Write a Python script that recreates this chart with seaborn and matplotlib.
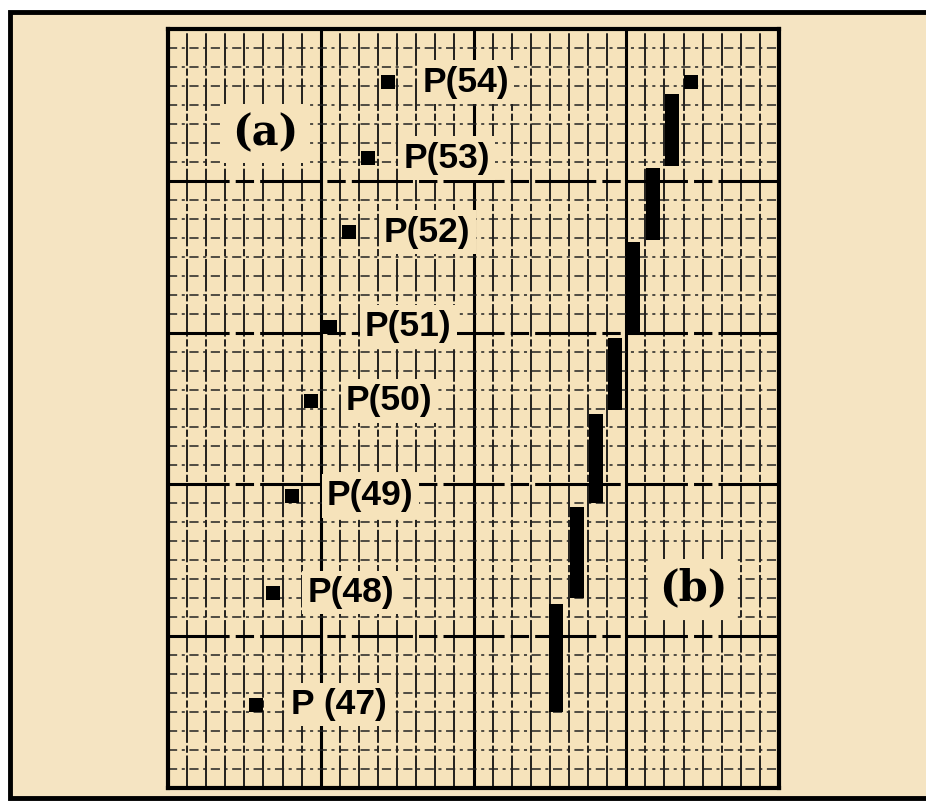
import matplotlib
matplotlib.use("Agg")
import matplotlib.pyplot as plt
from matplotlib.patches import Rectangle
import seaborn as sns
import pandas as pd

# ---- data ----
point_labels = ["P (47)", "P(48)", "P(49)", "P(50)", "P(51)", "P(52)", "P(53)", "P(54)"]
point_x = [4.6, 5.5, 6.5, 7.5, 8.5, 9.5, 10.5, 11.5]
point_y = [4.4, 10.3, 15.4, 20.4, 24.3, 29.3, 33.2, 37.2]

bar_x = [20.3, 21.4, 22.4, 23.4, 24.35, 25.4, 26.4]
bar_bottom = [4.0, 10.0, 15.0, 19.9, 24.0, 28.9, 32.8]
bar_top = [9.7, 14.8, 19.7, 23.7, 28.8, 32.7, 36.6]
end_x = [27.4]
end_y = [37.2]

panel_labels = ["(a)", "(b)"]
panel_x = [5.1, 27.5]
panel_y = [34.5, 10.5]

x_max = 32
y_max = 40
major_step = 8

paper = "#F6E3BB"
paper_out = "#F5E4C2"

sns.set_style("white")
plt.rcParams["font.family"] = ["Liberation Sans", "DejaVu Sans"]

W, H = 926, 802
fig = plt.figure(figsize=(W / 100, H / 100), dpi=100)
fig.patch.set_facecolor("white")

# outer frame of the scanned figure
fig.patches.append(Rectangle((10 / W, 1 - 798 / H), (940 - 10) / W, (798 - 12) / H,
                             transform=fig.transFigure, facecolor=paper_out,
                             edgecolor="black", linewidth=3.5, zorder=-10))

left, right, top, bottom = 168, 779, 29, 788
ax = fig.add_axes([left / W, 1 - bottom / H, (right - left) / W, (bottom - top) / H])
ax.set_zorder(5)
ax.set_facecolor(paper)
ax.set_xlim(0, x_max)
ax.set_ylim(0, y_max)

# graph-paper grid
for xv in range(1, x_max):
    if xv % major_step == 0:
        ax.axvline(xv, color="black", lw=2.2, zorder=1)
    else:
        ax.axvline(xv, color="#111111", lw=1.3, ls=(0, (18, 1.5, 4, 1.5)), zorder=1)
for yv in range(1, y_max):
    if yv % major_step == 0:
        ax.axhline(yv, color="black", lw=2.2, ls=(0, (20, 2, 6, 2)), zorder=1)
    else:
        ax.axhline(yv, color="#222222", lw=1.1, ls=(0, (6, 3, 2, 3)), zorder=1)

# (a) points
df_a = pd.DataFrame({"x": point_x, "y": point_y, "label": point_labels})
sns.scatterplot(data=df_a, x="x", y="y", marker="s", s=95, color="black",
                linewidth=0, ax=ax, zorder=4)
for xv, yv, lab in zip(point_x, point_y, point_labels):
    ax.annotate(lab, (xv, yv), xytext=(25, 0), textcoords="offset points",
                ha="left", va="center", fontsize=25.5, fontweight="bold",
                color="black", zorder=5,
                bbox=dict(boxstyle="square,pad=0.15", facecolor=paper, edgecolor="none"))

# (b) bars
heights = [t - b for t, b in zip(bar_top, bar_bottom)]
ax.bar(bar_x, heights, bottom=bar_bottom, width=0.74, color="black",
       linewidth=0, zorder=4)
sns.scatterplot(x=end_x, y=end_y, marker="s", s=95, color="black",
                linewidth=0, ax=ax, zorder=4)

for lab, xv, yv in zip(panel_labels, panel_x, panel_y):
    ax.text(xv, yv, lab, ha="center", va="center", fontsize=30, fontweight="bold",
            family=["DejaVu Serif"], color="black", zorder=5,
            bbox=dict(boxstyle="square,pad=0.2", facecolor=paper, edgecolor="none"))

ax.set_xticks([])
ax.set_yticks([])
ax.set_xlabel("")
ax.set_ylabel("")
for sp in ax.spines.values():
    sp.set_visible(True)
    sp.set_color("black")
    sp.set_linewidth(3)

fig.savefig("out.png", dpi=100, facecolor=fig.get_facecolor())
